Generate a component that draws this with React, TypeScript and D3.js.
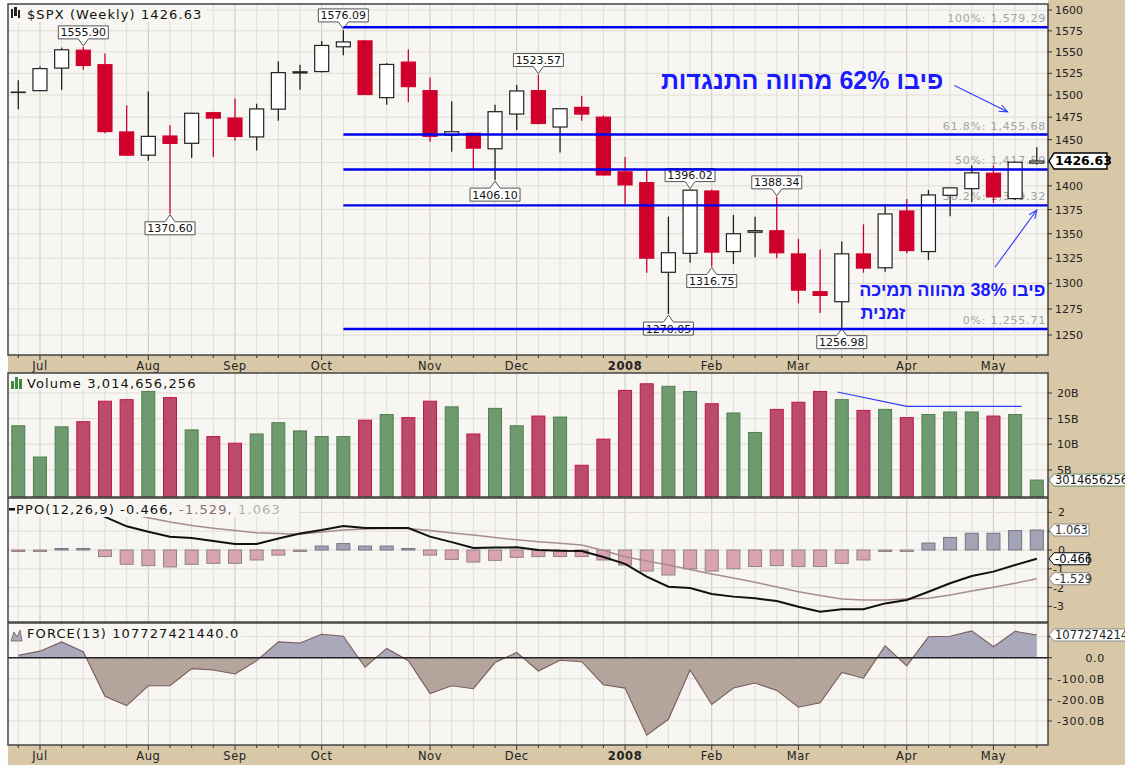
import React from 'react';
import * as d3 from 'd3';

// ---------- DATA ----------
const opens = [1502.9, 1505, 1531, 1552, 1535, 1458.5, 1433, 1454, 1446, 1480, 1474, 1453, 1484, 1525.4, 1527, 1556, 1563, 1497, 1538, 1505, 1455, 1457, 1440, 1478.5, 1505, 1464, 1486, 1475, 1415, 1403.4, 1311, 1330, 1394.5, 1331.8, 1351.5, 1353, 1329.4, 1291.8, 1282, 1329.4, 1315.5, 1373.5, 1331.8, 1390, 1397, 1413.5, 1386.5, 1424.5];
const highs = [1517, 1533, 1555, 1555.9, 1548, 1488, 1504, 1466, 1480, 1481, 1496, 1490, 1539, 1535, 1563, 1576.09, 1564, 1537, 1553, 1520, 1493, 1457, 1489, 1511.5, 1523.57, 1485, 1499, 1477, 1431, 1418, 1367.6, 1396.02, 1396, 1369.4, 1367.6, 1388.34, 1344.7, 1334, 1342, 1359.7, 1380.5, 1386, 1395.6, 1398, 1422, 1422, 1426, 1441.6];
const lows = [1484, 1505, 1506, 1529, 1457, 1432, 1427, 1370.6, 1430, 1431, 1449, 1438, 1471, 1506, 1526, 1546, 1500, 1489, 1492, 1447.7, 1436.7, 1417, 1406.1, 1460.7, 1467, 1436, 1471, 1411, 1380, 1310.6, 1270.05, 1320.6, 1316.75, 1319.3, 1326, 1325, 1280.5, 1271, 1256.98, 1310.6, 1311.6, 1330, 1323.3, 1368, 1383, 1382, 1385, 1422.6];
const closes = [1503.35, 1530.44, 1552.5, 1534.1, 1458.95, 1433.06, 1453.64, 1445.94, 1479.37, 1473.99, 1453.55, 1484.25, 1525.75, 1526.75, 1557.59, 1561.8, 1500.63, 1535.28, 1509.65, 1453.7, 1458.74, 1440.7, 1481.14, 1504.66, 1467.95, 1484.46, 1478.49, 1411.63, 1401.02, 1325.19, 1330.61, 1395.42, 1331.29, 1349.99, 1353.11, 1330.63, 1293.37, 1288.14, 1329.51, 1315.22, 1370.4, 1332.83, 1390.33, 1397.84, 1413.9, 1388.28, 1425.35, 1426.63];
// volume in billions of shares
const volumes = [13.6, 7.5, 13.4, 14.4, 18.4, 18.7, 20.3, 19.1, 12.8, 11.5, 10.2, 12.0, 14.2, 12.6, 11.5, 11.5, 14.7, 15.8, 15.2, 18.4, 17.3, 12.0, 17.0, 13.6, 15.5, 15.3, 5.9, 11.0, 20.5, 21.8, 21.3, 20.3, 17.9, 16.1, 12.3, 16.8, 18.2, 20.3, 18.7, 16.6, 16.8, 15.2, 15.8, 16.3, 16.3, 15.5, 15.8, 3.01];
const ppoLine = [2.3, 2.35, 2.45, 2.3, 1.76, 1.26, 0.97, 0.71, 0.64, 0.48, 0.32, 0.32, 0.61, 0.88, 1.06, 1.28, 1.17, 1.17, 1.17, 0.71, 0.42, 0.11, 0.13, 0.14, 0.0, -0.04, -0.05, -0.37, -0.74, -1.42, -1.95, -2.02, -2.34, -2.48, -2.57, -2.71, -3.02, -3.28, -3.15, -3.15, -2.84, -2.66, -2.22, -1.77, -1.38, -1.15, -0.8, -0.466];
const ppoSignal = [2.05, 2.1, 2.15, 2.2, 2.1, 1.95, 1.72, 1.49, 1.3, 1.16, 1.04, 0.92, 0.88, 0.84, 0.96, 1.06, 1.12, 1.14, 1.15, 1.04, 0.91, 0.8, 0.66, 0.54, 0.44, 0.36, 0.27, -0.03, -0.36, -0.58, -0.8, -1.04, -1.28, -1.49, -1.72, -1.97, -2.22, -2.42, -2.61, -2.66, -2.66, -2.61, -2.57, -2.39, -2.18, -1.98, -1.77, -1.529];
const ppoHist = [-0.05, -0.03, 0.05, 0.02, -0.35, -0.76, -0.83, -0.9, -0.76, -0.71, -0.71, -0.53, -0.27, -0.03, 0.21, 0.34, 0.21, 0.21, 0.07, -0.27, -0.5, -0.64, -0.55, -0.39, -0.35, -0.35, -0.35, -0.53, -0.8, -1.12, -1.33, -1.0, -1.12, -1.0, -0.88, -0.83, -0.88, -0.88, -0.71, -0.53, -0.04, -0.01, 0.37, 0.67, 0.89, 0.89, 1.03, 1.063];
// force index in billions
const forceIdx = [12, 31, 75, 28, -183, -227, -133, -133, -52, -58, -77, -14, 75, 70, 111, 102, -45, 44, -14, -170, -133, -147, -23, 25, -63, -12, -19, -128, -144, -367, -292, -58, -222, -144, -120, -155, -235, -214, -70, -97, 56, -39, 99, 102, 127, 52, 125, 107.7];

const monthTicks = [
  { i: 1, label: 'Jul' }, { i: 6, label: 'Aug' }, { i: 10, label: 'Sep' }, { i: 14, label: 'Oct' },
  { i: 19, label: 'Nov' }, { i: 23, label: 'Dec' }, { i: 28, label: '2008', bold: true },
  { i: 32, label: 'Feb' }, { i: 36, label: 'Mar' }, { i: 41, label: 'Apr' }, { i: 45, label: 'May' },
];
const priceTicks = [1250, 1275, 1300, 1325, 1350, 1375, 1400, 1425, 1450, 1475, 1500, 1525, 1550, 1575, 1600];
const priceLabelsHidden = [1425];
const volumeTicks = [5, 10, 15, 20];
const ppoTicks = [-3, -2, -1, 0, 1, 2];
const ppoLabelsHidden = [1];
const forceTicks = [-300, -200, -100, 0, 100];
const forceLabelsHidden = [100];

const fibLevels = [
  { label: '100%: 1,579.29', value: 1579.29 },
  { label: '61.8%: 1,455.68', value: 1455.68 },
  { label: '50%: 1,417.50', value: 1417.5 },
  { label: '38.2%: 1,379.32', value: 1379.32 },
  { label: '0%: 1,255.71', value: 1255.71 },
];
const fibStart = 15;

const callouts = [
  { i: 3, value: 1555.9, text: '1555.90', above: true },
  { i: 7, value: 1370.6, text: '1370.60', above: false },
  { i: 15, value: 1576.09, text: '1576.09', above: true },
  { i: 22, value: 1406.1, text: '1406.10', above: false },
  { i: 24, value: 1523.57, text: '1523.57', above: true },
  { i: 30, value: 1270.05, text: '1270.05', above: false },
  { i: 31, value: 1396.02, text: '1396.02', above: true },
  { i: 32, value: 1316.75, text: '1316.75', above: false },
  { i: 35, value: 1388.34, text: '1388.34', above: true },
  { i: 38, value: 1256.98, text: '1256.98', above: false },
];

const volTrend = [{ i: 37.8, v: 20.2 }, { i: 41, v: 17.4 }, { i: 46.3, v: 17.4 }];
const arrow1 = [{ i: 43.2, p: 1511 }, { i: 45.65, p: 1481 }];
const arrow2 = [{ i: 45.07, p: 1316 }, { i: 47.0, p: 1374.5 }];
const note1 = { i: 36.17, p: 1506.5, text: 'פיבו 62% מהווה התנגדות' };
const note2 = { i: 43.1, p: 1287.5, text: 'פיבו 38% מהווה תמיכה' };
const note3 = { i: 39.9, p: 1265.5, text: 'זמנית' };

// ---------- LAYOUT ----------
const W = 1125, H = 765;
const L = 8, R = 1048;
const mainP = { top: 4, bottom: 355 };
const volP = { top: 373, bottom: 497 };
const ppoP = { top: 498, bottom: 622 };
const frcP = { top: 623, bottom: 745 };
const TAN = '#d8c8a8';
const BG = '#f7f6f2';
const GRID = '#e0ddd5';
const MGRID = '#cdc8bc';
const FONT = 'DejaVu Sans, Verdana, sans-serif';

export default function App() {
  const n = closes.length;
  const x = d3.scaleLinear().domain([0, n - 1]).range([18.3, 1036.8]);
  const yP = d3.scaleLog().domain([1250, 1600]).range([335, 10.1]);
  const yV = d3.scaleLinear().domain([0, 20]).range([495.5, 393]);
  const yO = d3.scaleLinear().domain([-3, 2]).range([606.4, 512.4]);
  const yF = d3.scaleLinear().domain([-300, 0]).range([721, 657.7]);
  const idx = d3.range(n);
  const monthSet = new Set(monthTicks.map((m) => m.i));

  const panels = [mainP, volP, ppoP, frcP];

  const vgrid = (p: { top: number; bottom: number }, key: string) =>
    idx.map((i) => (
      <line key={key + i} x1={x(i)} x2={x(i)} y1={p.top} y2={p.bottom}
        stroke={monthSet.has(i) ? MGRID : GRID} strokeWidth={1} />
    ));

  const ppoLinePath = d3.line<number>().x((_, i) => x(i)).y((d) => yO(d))(ppoLine) || '';
  const sigPath = d3.line<number>().x((_, i) => x(i)).y((d) => yO(d))(ppoSignal) || '';
  const forceLine = d3.line<number>().x((_, i) => x(i)).y((d) => yF(d))(forceIdx) || '';
  const forceArea = d3.area<number>().x((_, i) => x(i)).y0(yF(0)).y1((d) => yF(d))(forceIdx) || '';
  const volTrendPath = d3.line<{ i: number; v: number }>().x((d) => x(d.i)).y((d) => yV(d.v))(volTrend) || '';

  const axisStrip = (top: number, bottom: number, key: string) => (
    <g key={key}>
      <rect x={L} y={top} width={R - L} height={bottom - top} fill={TAN} />
      {idx.map((i) => (
        <line key={key + 't' + i} x1={x(i)} x2={x(i)} y1={top} y2={top + (monthSet.has(i) ? 5 : 3)} stroke="#333" strokeWidth={1} />
      ))}
      {monthTicks.map((m) => (
        <text key={key + m.label} x={x(m.i)} y={top + 15} textAnchor="middle" fontSize={11.5}
          fontWeight={m.bold ? 'bold' : 'normal'} letterSpacing={0.6} fill="#222">{m.label}</text>
      ))}
    </g>
  );

  const arrowHead = (a: { i: number; p: number }[], key: string) => {
    const x1 = x(a[0].i), y1 = yP(a[0].p), x2 = x(a[1].i), y2 = yP(a[1].p);
    const ang = Math.atan2(y2 - y1, x2 - x1);
    const len = 9, spread = 0.4;
    const p1 = [x2 - len * Math.cos(ang - spread), y2 - len * Math.sin(ang - spread)];
    const p2 = [x2 - len * Math.cos(ang + spread), y2 - len * Math.sin(ang + spread)];
    return (
      <g key={key} stroke="#2a3cff" strokeWidth={1.1} fill="none">
        <line x1={x1} y1={y1} x2={x2} y2={y2} />
        <polyline points={`${p1[0]},${p1[1]} ${x2},${y2} ${p2[0]},${p2[1]}`} />
      </g>
    );
  };

  const valueBox = (yc: number, text: string, opts: { stroke: string; color: string; bold?: boolean; w?: number; h?: number; key: string }) => {
    const w = opts.w ?? 40, h = opts.h ?? 12;
    const x0 = 1049;
    const d = `M${x0},${yc} L${x0 + 5},${yc - h / 2} H${x0 + w} V${yc + h / 2} H${x0 + 5} Z`;
    return (
      <g key={opts.key}>
        <path d={d} fill="#fff" stroke={opts.stroke} strokeWidth={opts.bold ? 1.4 : 1} />
        <text x={x0 + 6} y={yc + 4.2} fontSize={opts.bold ? 12.5 : 11.5} fontWeight={opts.bold ? 'bold' : 'normal'} fill={opts.color}>{text}</text>
      </g>
    );
  };

  return (
    <svg width={W} height={H} style={{ position: 'fixed', left: 0, top: 0 }} fontFamily={FONT}>
      <defs>
        <clipPath id="frcPos"><rect x={L} y={frcP.top} width={R - L} height={yF(0) - frcP.top} /></clipPath>
        <clipPath id="frcNeg"><rect x={L} y={yF(0)} width={R - L} height={frcP.bottom - yF(0)} /></clipPath>
      </defs>
      <rect x={0} y={0} width={W} height={H} fill="#fdfdfd" />
      <rect x={R} y={0} width={W - R} height={H} fill={TAN} />
      <rect x={L} y={0} width={R - L} height={mainP.top} fill="#fdfdfd" />

      {panels.map((p, k) => (
        <rect key={'bg' + k} x={L} y={p.top} width={R - L} height={p.bottom - p.top} fill={BG} />
      ))}

      {/* grids */}
      {vgrid(mainP, 'gm')}
      {vgrid(volP, 'gv')}
      {vgrid(ppoP, 'go')}
      {vgrid(frcP, 'gf')}
      {priceTicks.map((t) => (
        <line key={'hp' + t} x1={L} x2={R} y1={yP(t)} y2={yP(t)} stroke={GRID} />
      ))}
      {volumeTicks.map((t) => (
        <line key={'hv' + t} x1={L} x2={R} y1={yV(t)} y2={yV(t)} stroke={GRID} />
      ))}
      {ppoTicks.map((t) => (
        <line key={'ho' + t} x1={L} x2={R} y1={yO(t)} y2={yO(t)} stroke={GRID} />
      ))}
      {forceTicks.map((t) => (
        <line key={'hf' + t} x1={L} x2={R} y1={yF(t)} y2={yF(t)} stroke={GRID} />
      ))}

      {/* fib level labels (behind candles) */}
      {fibLevels.map((f) => (
        <text key={'fl' + f.label} x={1046} y={yP(f.value) - 5} textAnchor="end" fontSize={11}
          letterSpacing={0.8} fill="#a3a3a3">{f.label}</text>
      ))}

      {/* candles */}
      {idx.map((i) => {
        const up = closes[i] >= opens[i];
        const col = up ? '#222' : '#d0002c';
        const top = yP(Math.max(opens[i], closes[i]));
        const bot = yP(Math.min(opens[i], closes[i]));
        return (
          <g key={'c' + i}>
            <line x1={x(i)} x2={x(i)} y1={yP(highs[i])} y2={yP(lows[i])} stroke={col} strokeWidth={1.3} />
            <rect x={x(i) - 7} y={top} width={14} height={Math.max(bot - top, 0.3)}
              fill={up ? '#ffffff' : '#d0002c'} stroke={up ? '#222' : '#d0002c'} strokeWidth={1.2} />
          </g>
        );
      })}

      {/* callouts */}
      {callouts.map((c) => {
        const cx = x(c.i);
        const w = 50, h = 13, cg = 7, nw = 5;
        let d: string, ty: number;
        if (c.above) {
          const tip = yP(c.value) - 1;
          const b = tip - cg, t = b - h;
          d = `M${cx - w / 2},${t} H${cx + w / 2} V${b} H${cx + nw} L${cx},${tip} L${cx - nw},${b} H${cx - w / 2} Z`;
          ty = (t + b) / 2 + 4;
        } else {
          const tip = yP(c.value) + 1;
          const t = tip + cg, b = t + h;
          d = `M${cx - w / 2},${b} H${cx + w / 2} V${t} H${cx + nw} L${cx},${tip} L${cx - nw},${t} H${cx - w / 2} Z`;
          ty = (t + b) / 2 + 4;
        }
        return (
          <g key={'co' + c.i}>
            <path d={d} fill="#fff" stroke="#555" strokeWidth={1} />
            <text x={cx} y={ty} textAnchor="middle" fontSize={11} fill="#111">{c.text}</text>
          </g>
        );
      })}

      {/* fib lines on top */}
      {fibLevels.map((f) => (
        <line key={'fib' + f.label} x1={x(fibStart)} x2={R} y1={yP(f.value)} y2={yP(f.value)} stroke="#0000f0" strokeWidth={2.3} />
      ))}

      {/* hebrew notes */}
      <text x={x(note1.i)} y={yP(note1.p)} textAnchor="middle" direction="rtl" fontFamily="Liberation Sans, Arial, DejaVu Sans, sans-serif"
        fontWeight="bold" fontSize={25} fill="#1a1aff">{note1.text}</text>
      <text x={x(note2.i)} y={yP(note2.p)} textAnchor="middle" direction="rtl" fontFamily="Liberation Sans, Arial, DejaVu Sans, sans-serif"
        fontWeight="bold" fontSize={18} fill="#1a1aff">{note2.text}</text>
      <text x={x(note3.i)} y={yP(note3.p)} textAnchor="middle" direction="rtl" fontFamily="Liberation Sans, Arial, DejaVu Sans, sans-serif"
        fontWeight="bold" fontSize={18} fill="#1a1aff">{note3.text}</text>
      {arrowHead(arrow1, 'a1')}
      {arrowHead(arrow2, 'a2')}

      {/* volume */}
      {idx.map((i) => {
        const up = i === 0 || closes[i] >= closes[i - 1];
        return (
          <rect key={'v' + i} x={x(i) - 6.5} y={yV(volumes[i])} width={13} height={volP.bottom - yV(volumes[i])}
            fill={up ? '#6f9a6f' : '#bb4a6e'} stroke={up ? '#4f7f4f' : '#c2173f'} strokeWidth={1} />
        );
      })}
      <path d={volTrendPath} fill="none" stroke="#2a3cff" strokeWidth={1.2} />

      {/* PPO */}
      {idx.map((i) => {
        const v = ppoHist[i];
        const y0 = yO(0), y1 = yO(v);
        const h = Math.max(Math.abs(y1 - y0), 1.5);
        return (
          <rect key={'h' + i} x={x(i) - 6.5} y={v >= 0 ? y0 - h : y0} width={13} height={h}
            fill={v >= 0 ? '#a3a3b6' : '#d8a4b2'} stroke={v >= 0 ? '#737384' : '#928088'} strokeWidth={1} />
        );
      })}
      <path d={sigPath} fill="none" stroke="#a88c8c" strokeWidth={1.5} />
      <path d={ppoLinePath} fill="none" stroke="#111" strokeWidth={2} />

      {/* Force */}
      <path d={forceArea} fill="#a9a9bb" clipPath="url(#frcPos)" />
      <path d={forceArea} fill="#b3a59b" clipPath="url(#frcNeg)" />
      <path d={forceLine} fill="none" stroke="#7a5c5c" strokeWidth={1.1} />
      <line x1={L} x2={R} y1={yF(0)} y2={yF(0)} stroke="#222" strokeWidth={1.6} />

      {/* axis strips */}
      {axisStrip(mainP.bottom, volP.top, 'ax1')}
      {axisStrip(frcP.bottom, H, 'ax2')}

      {/* panel borders */}
      {panels.map((p, k) => (
        <rect key={'bd' + k} x={L} y={p.top} width={R - L} height={p.bottom - p.top} fill="none" stroke="#444" strokeWidth={1.5} />
      ))}

      {/* titles with background */}
      <rect x={L + 1} y={mainP.top + 1} width={198} height={17} fill={BG} />
      <g fill="#222">
        <rect x={11} y={9} width={2} height={9} />
        <rect x={14} y={7} width={3} height={9} />
        <rect x={18} y={10} width={2} height={8} />
      </g>
      <text x={27} y={19} fontSize={13} letterSpacing={1.1} fill="#111">$SPX (Weekly) 1426.63</text>

      <rect x={L + 1} y={volP.top + 1} width={193} height={16} fill={BG} />
      <g fill="#3e8a3e">
        <rect x={11} y={381} width={3} height={8} />
        <rect x={15} y={377} width={3} height={12} />
        <rect x={19} y={379} width={3} height={10} />
      </g>
      <text x={27} y={388} fontSize={13} letterSpacing={1.1} fill="#111">Volume 3,014,656,256</text>

      <rect x={L + 1} y={ppoP.top + 1} width={290} height={18} fill={BG} />
      <rect x={9} y={508} width={6} height={2.5} fill="#111" />
      <text x={16} y={514} fontSize={13} letterSpacing={1.1} fill="#111">
        PPO(12,26,9) -0.466,<tspan fill="#8a6d6d"> -1.529,</tspan><tspan fill="#b0b0b0"> 1.063</tspan>
      </text>

      <rect x={L + 1} y={frcP.top + 1} width={232} height={16} fill={BG} />
      <path d="M11,641 L14,632 L17,637 L20,630 L22,641 Z" fill="#a9a9bb" stroke="#7a5c5c" strokeWidth={0.8} />
      <text x={27} y={638} fontSize={13} letterSpacing={1.1} fill="#111">FORCE(13) 107727421440.0</text>

      {/* right axes */}
      {priceTicks.map((t) => (
        <g key={'pt' + t}>
          <line x1={R} x2={R + 4} y1={yP(t)} y2={yP(t)} stroke="#333" />
          {!priceLabelsHidden.includes(t) && <text x={1055} y={yP(t) + 4} fontSize={11} fill="#222">{t}</text>}
        </g>
      ))}
      {volumeTicks.map((t) => (
        <g key={'vt' + t}>
          <line x1={R} x2={R + 4} y1={yV(t)} y2={yV(t)} stroke="#333" />
          <text x={1057} y={yV(t) + 4} fontSize={11} fill="#222">{t}B</text>
        </g>
      ))}
      {ppoTicks.map((t) => (
        <g key={'ot' + t}>
          <line x1={R} x2={R + 4} y1={yO(t)} y2={yO(t)} stroke="#333" />
          {!ppoLabelsHidden.includes(t) && <text x={t < 0 ? 1053 : 1058} y={yO(t) + 4} fontSize={11} fill="#222">{t}</text>}
        </g>
      ))}
      {forceTicks.map((t) => (
        <g key={'ft' + t}>
          <line x1={R} x2={R + 4} y1={yF(t)} y2={yF(t)} stroke="#333" />
          {!forceLabelsHidden.includes(t) && (
            <text x={1105} y={yF(t) + 4} fontSize={11} letterSpacing={0.7} textAnchor="end" fill="#222">
              {t === 0 ? '0.0' : `${t.toFixed(1)}B`}
            </text>
          )}
        </g>
      ))}

      {/* value boxes */}
      {valueBox(yP(closes[n - 1]), '1426.63', { stroke: '#000', color: '#000', bold: true, w: 58, h: 16, key: 'bp' })}
      {valueBox(yV(volumes[n - 1]), '3014656256', { stroke: '#5f8a5f', color: '#111', w: 90, h: 12, key: 'bv' })}
      {valueBox(yO(ppoHist[n - 1]), '1.063', { stroke: '#8a8a8a', color: '#333', key: 'bh' })}
      {valueBox(yO(ppoLine[n - 1]), '-0.466', { stroke: '#000', color: '#000', key: 'bl' })}
      {valueBox(yO(ppoSignal[n - 1]), '-1.529', { stroke: '#8a8a8a', color: '#333', key: 'bs' })}
      {valueBox(yF(forceIdx[n - 1]), '107727421440', { stroke: '#8a8a8a', color: '#222', w: 90, h: 12, key: 'bf' })}
    </svg>
  );
}
